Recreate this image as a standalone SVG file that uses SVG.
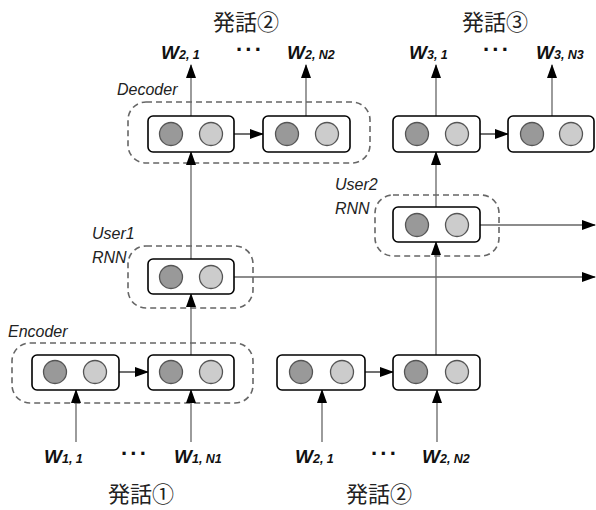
<svg xmlns="http://www.w3.org/2000/svg" width="596" height="510" viewBox="0 0 596 510">
<defs>
<marker id="ah" markerUnits="userSpaceOnUse" markerWidth="14" markerHeight="10" refX="13" refY="5" orient="auto">
<path d="M0,0 L14,5 L0,10 Z" fill="#000"/>
</marker>
<style>
.box{fill:#fff;stroke:#000;stroke-width:1.6}
.grp{fill:none;stroke:#666;stroke-width:1.6;stroke-dasharray:6 4}
.dk{fill:#999;stroke:#555;stroke-width:1.3}
.lt{fill:#ccc;stroke:#555;stroke-width:1.3}
.ln{fill:none;stroke:#666;stroke-width:1.3}
.lnk{fill:none;stroke:#222;stroke-width:1.3}
.lbl{font-family:"Liberation Sans",Arial,sans-serif;font-style:italic;font-size:16px;fill:#222}
.w{font-family:"Liberation Sans",Arial,sans-serif;font-style:italic;font-weight:bold;fill:#111}
.wb{font-size:19px}
.ws{font-size:12.5px}
.title{font-family:"Liberation Serif","Noto Sans CJK JP",serif;font-size:22px;fill:#222}
.dots{font-family:"Liberation Sans",Arial,sans-serif;font-weight:bold;font-size:22px;letter-spacing:2px;fill:#111}
</style>
</defs>

<!-- dashed groups -->
<g id="decoder-group"><rect class="grp" x="128" y="102" width="242" height="61" rx="18"/><text class="lbl" x="117" y="95">Decoder</text></g>
<g id="user1-group"><rect class="grp" x="128" y="246" width="125" height="62" rx="18"/><text class="lbl" x="92" y="239">User1</text><text class="lbl" x="92" y="263">RNN</text></g>
<g id="user2-group"><rect class="grp" x="375" y="195" width="124" height="61" rx="18"/><text class="lbl" x="335" y="190">User2</text><text class="lbl" x="335" y="214">RNN</text></g>
<g id="encoder-group"><rect class="grp" x="12" y="343" width="241" height="60" rx="18"/><text class="lbl" x="8" y="337">Encoder</text></g>

<!-- connectors -->
<g id="connectors">
<line class="ln" x1="191" y1="116" x2="191" y2="65" marker-end="url(#ah)"/>
<line class="ln" x1="306" y1="116" x2="306" y2="65" marker-end="url(#ah)"/>
<line class="ln" x1="436" y1="116" x2="436" y2="65" marker-end="url(#ah)"/>
<line class="ln" x1="552" y1="116" x2="552" y2="65" marker-end="url(#ah)"/>
<line class="lnk" x1="234" y1="134" x2="263" y2="134" marker-end="url(#ah)"/>
<line class="lnk" x1="480" y1="134" x2="508" y2="134" marker-end="url(#ah)"/>
<line class="ln" x1="191" y1="259" x2="191" y2="152" marker-end="url(#ah)"/>
<line class="ln" x1="191" y1="355" x2="191" y2="294" marker-end="url(#ah)"/>
<line class="ln" x1="234" y1="277" x2="595" y2="277" marker-end="url(#ah)"/>
<line class="ln" x1="436" y1="207" x2="436" y2="152" marker-end="url(#ah)"/>
<line class="ln" x1="436" y1="355" x2="436" y2="242" marker-end="url(#ah)"/>
<line class="ln" x1="480" y1="225" x2="595" y2="225" marker-end="url(#ah)"/>
<line class="lnk" x1="119" y1="372" x2="148" y2="372" marker-end="url(#ah)"/>
<line class="lnk" x1="365" y1="372" x2="393" y2="372" marker-end="url(#ah)"/>
<line class="ln" x1="76" y1="442" x2="76" y2="390" marker-end="url(#ah)"/>
<line class="ln" x1="191" y1="442" x2="191" y2="390" marker-end="url(#ah)"/>
<line class="ln" x1="322" y1="442" x2="322" y2="390" marker-end="url(#ah)"/>
<line class="ln" x1="437" y1="442" x2="437" y2="390" marker-end="url(#ah)"/>
</g>

<!-- nodes -->
<g id="dec1"><rect class="box" x="148" y="116" width="86" height="36" rx="5"/><circle class="dk" cx="171" cy="134" r="11.5"/><circle class="lt" cx="211" cy="134" r="11.5"/></g>
<g id="dec2"><rect class="box" x="263" y="116" width="87" height="36" rx="5"/><circle class="dk" cx="287" cy="134" r="11.5"/><circle class="lt" cx="327" cy="134" r="11.5"/></g>
<g id="dec3"><rect class="box" x="393" y="116" width="87" height="36" rx="5"/><circle class="dk" cx="417" cy="134" r="11.5"/><circle class="lt" cx="457" cy="134" r="11.5"/></g>
<g id="dec4"><rect class="box" x="508" y="116" width="86" height="36" rx="5"/><circle class="dk" cx="532" cy="134" r="11.5"/><circle class="lt" cx="571" cy="134" r="11.5"/></g>
<g id="user1"><rect class="box" x="148" y="259" width="86" height="35" rx="5"/><circle class="dk" cx="171" cy="277" r="11.5"/><circle class="lt" cx="211" cy="277" r="11.5"/></g>
<g id="user2"><rect class="box" x="393" y="207" width="87" height="35" rx="5"/><circle class="dk" cx="417" cy="225" r="11.5"/><circle class="lt" cx="457" cy="225" r="11.5"/></g>
<g id="enc1"><rect class="box" x="32" y="355" width="87" height="35" rx="5"/><circle class="dk" cx="55" cy="372" r="11.5"/><circle class="lt" cx="95" cy="372" r="11.5"/></g>
<g id="enc2"><rect class="box" x="148" y="355" width="86" height="35" rx="5"/><circle class="dk" cx="171" cy="372" r="11.5"/><circle class="lt" cx="211" cy="372" r="11.5"/></g>
<g id="enc3"><rect class="box" x="277" y="355" width="88" height="35" rx="5"/><circle class="dk" cx="301" cy="372" r="11.5"/><circle class="lt" cx="342" cy="372" r="11.5"/></g>
<g id="enc4"><rect class="box" x="393" y="355" width="87" height="35" rx="5"/><circle class="dk" cx="416" cy="372" r="11.5"/><circle class="lt" cx="457" cy="372" r="11.5"/></g>

<!-- word labels -->
<g id="words">
<text class="w" x="161" y="59"><tspan class="wb">W</tspan><tspan class="ws">2, 1</tspan></text>
<text class="dots" x="236" y="57">···</text>
<text class="w" x="287" y="59"><tspan class="wb">W</tspan><tspan class="ws">2, N2</tspan></text>
<text class="w" x="409" y="59"><tspan class="wb">W</tspan><tspan class="ws">3, 1</tspan></text>
<text class="dots" x="483" y="57">···</text>
<text class="w" x="536" y="59"><tspan class="wb">W</tspan><tspan class="ws">3, N3</tspan></text>
<text class="w" x="44" y="463"><tspan class="wb">W</tspan><tspan class="ws">1, 1</tspan></text>
<text class="dots" x="121" y="461">···</text>
<text class="w" x="174" y="463"><tspan class="wb">W</tspan><tspan class="ws">1, N1</tspan></text>
<text class="w" x="295" y="463"><tspan class="wb">W</tspan><tspan class="ws">2, 1</tspan></text>
<text class="dots" x="371" y="461">···</text>
<text class="w" x="422" y="463"><tspan class="wb">W</tspan><tspan class="ws">2, N2</tspan></text>
</g>

<!-- titles -->
<g id="titles">
<text class="title" x="213" y="30">発話②</text>
<text class="title" x="462" y="30">発話③</text>
<text class="title" x="108" y="502">発話①</text>
<text class="title" x="346" y="502">発話②</text>
</g>
</svg>
